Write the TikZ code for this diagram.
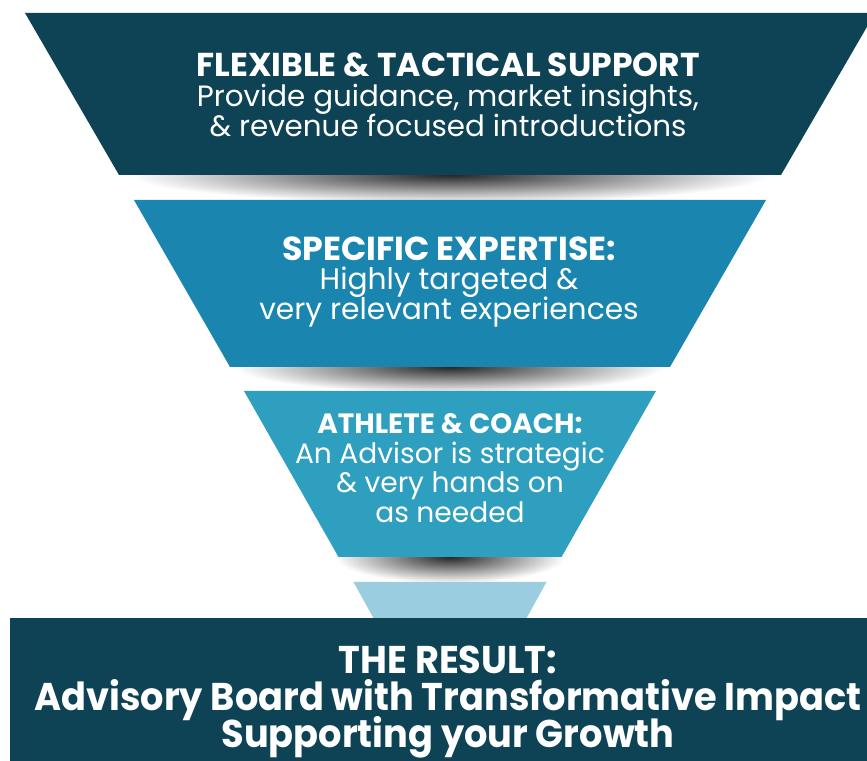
\documentclass[tikz,border=0pt]{standalone}
\usepackage{fontspec}
\setmainfont{Poppins}
\setlength{\lineskiplimit}{-20pt}
\definecolor{deepteal}{HTML}{0E4356}
\definecolor{midblue}{HTML}{1A86AF}
\definecolor{lightblue}{HTML}{2E9FBF}
\definecolor{paleblue}{HTML}{9ACDDF}

\begin{document}
\begin{tikzpicture}[
    shadowblur/.style={inner color=black!85, outer color=white},
    funneltext/.style={text=white, align=center, inner sep=0pt}
]

    \clip (0,0) rectangle (8.67,7.60);

    %% Funnel of advisory support

    % Soft shadows under the layers
    \shade[shadowblur] (4.5-3.2,5.85-0.28) rectangle (4.5+3.2,5.85+0.28);
    \shade[shadowblur] (4.5-2.15,3.93-0.26) rectangle (4.5+2.15,3.93+0.26);
    \shade[shadowblur] (4.5-1.15,2.03-0.26) rectangle (4.5+1.15,2.03+0.26);

    % Top layer
    \fill[deepteal] (0.25,7.47) -- (8.75,7.47) -- (7.81,5.85) -- (1.19,5.85) -- cycle;

    % Second layer
    \fill[midblue] (1.34,5.60) -- (7.66,5.60) -- (6.70,3.93) -- (2.30,3.93) -- cycle;

    % Third layer
    \fill[lightblue] (2.44,3.69) -- (6.56,3.69) -- (5.615,2.03) -- (3.385,2.03) -- cycle;

    % Funnel tip
    \fill[paleblue] (3.535,1.78) -- (5.465,1.78) -- (5.20,1.30) -- (3.80,1.30) -- cycle;

    % Result bar
    \fill[deepteal] (0.10,-0.10) rectangle (8.80,1.42);

    % Texts
    \node[funneltext, font=\fontsize{8.35}{8.5}\selectfont] (flexible) at (4.48,6.65)
        {{\bfseries\fontsize{9.4}{8.5}\selectfont FLEXIBLE \& TACTICAL SUPPORT}\\
         Provide guidance, market insights,\\
         \& revenue focused introductions};
    \node[funneltext, font=\fontsize{8.45}{8.3}\selectfont] (expertise) at (4.49,4.78)
        {{\bfseries\fontsize{9.45}{8.3}\selectfont SPECIFIC EXPERTISE:}\\
         Highly targeted \&\\
         very relevant experiences};
    \node[funneltext, font=\fontsize{8}{8.4}\selectfont] (athlete) at (4.50,2.92)
        {{\bfseries\fontsize{7.95}{8.4}\selectfont ATHLETE \& COACH:}\\
         An Advisor is strategic\\
         \& very hands on\\
         as needed};
    \node[funneltext, font=\bfseries\fontsize{11}{10.5}\selectfont,
          xscale=0.95, transform shape] (result) at (4.48,0.58)
        {THE RESULT:\\
         Advisory Board with Transformative Impact\\
         Supporting your Growth};

\end{tikzpicture}
\end{document}
